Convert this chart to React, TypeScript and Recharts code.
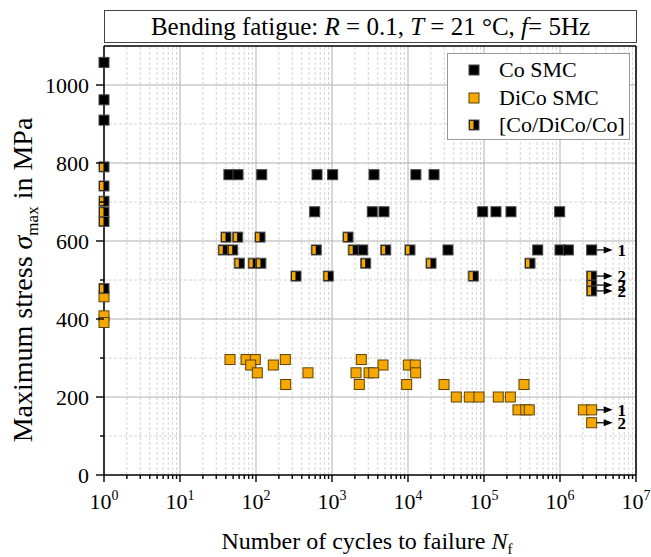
import React from 'react';
import { ScatterChart, Scatter, XAxis, YAxis, ReferenceLine } from 'recharts';

type Pt = { n: number; s: number; r?: string };

// Co SMC (black squares)
const coSmc: Pt[] = [
  { n: 1, s: 1058 }, { n: 1, s: 962 }, { n: 1, s: 910 },
  { n: 44, s: 770 }, { n: 58, s: 770 }, { n: 119, s: 770 }, { n: 635, s: 770 },
  { n: 1020, s: 770 }, { n: 3570, s: 770 }, { n: 12700, s: 770 }, { n: 22000, s: 770 },
  { n: 592, s: 675 }, { n: 3390, s: 675 }, { n: 4830, s: 675 }, { n: 96100, s: 675 },
  { n: 143800, s: 675 }, { n: 226500, s: 675 }, { n: 990000, s: 675 },
  { n: 2535, s: 577 }, { n: 33600, s: 577 }, { n: 509000, s: 577 }, { n: 1000000, s: 577 },
  { n: 1286000, s: 577 }, { n: 2610000, s: 577, r: '1' },
];

// DiCo SMC (orange squares)
const diCoSmc: Pt[] = [
  { n: 1, s: 457 }, { n: 1, s: 408 }, { n: 1, s: 391 },
  { n: 45.5, s: 296 }, { n: 73.9, s: 296 }, { n: 97.9, s: 296 }, { n: 243, s: 296 }, { n: 2430, s: 296 },
  { n: 85.2, s: 282 }, { n: 169, s: 282 }, { n: 4690, s: 282 }, { n: 10090, s: 282 }, { n: 12470, s: 282 },
  { n: 104, s: 262 }, { n: 483, s: 262 }, { n: 2070, s: 262 }, { n: 3070, s: 262 }, { n: 3540, s: 262 }, { n: 12620, s: 262 },
  { n: 246, s: 232 }, { n: 2287, s: 232 }, { n: 9610, s: 232 }, { n: 29780, s: 232 }, { n: 336000, s: 232 },
  { n: 43200, s: 200 }, { n: 64100, s: 200 }, { n: 85900, s: 200 }, { n: 154000, s: 200 }, { n: 222000, s: 200 },
  { n: 280000, s: 167 }, { n: 354000, s: 167 }, { n: 394000, s: 167 }, { n: 2030000, s: 167 },
  { n: 2610000, s: 167, r: '1' },
  { n: 2610000, s: 134, r: '2' },
];

// [Co/DiCo/Co] sandwich (half orange / half black)
const sandwich: Pt[] = [
  { n: 1, s: 790 }, { n: 1, s: 741 }, { n: 1, s: 702 }, { n: 1, s: 674 }, { n: 1, s: 650 }, { n: 1, s: 478 },
  { n: 40.3, s: 610 }, { n: 57.4, s: 610 }, { n: 113, s: 610 }, { n: 1625, s: 610 },
  { n: 37.1, s: 577 }, { n: 49.4, s: 577 }, { n: 621, s: 577 }, { n: 1905, s: 577 }, { n: 5090, s: 577 }, { n: 10620, s: 577 },
  { n: 60.3, s: 543 }, { n: 92, s: 543 }, { n: 116, s: 543 }, { n: 2775, s: 543 }, { n: 20100, s: 543 }, { n: 403000, s: 543 },
  { n: 336, s: 510 }, { n: 894, s: 510 }, { n: 72300, s: 510 },
  { n: 2610000, s: 510, r: '2' },
  { n: 2610000, s: 487, r: '2' },
  { n: 2610000, s: 472, r: '2' },
];

const seriesNames = ['Co SMC', 'DiCo SMC', '[Co/DiCo/Co]'];
const decadeTicks = [1, 10, 100, 1e3, 1e4, 1e5, 1e6, 1e7];
const decadeExp = ['0', '1', '2', '3', '4', '5', '6', '7'];
const stressTicks = [0, 200, 400, 600, 800, 1000];
const stressMinor = [100, 300, 500, 700, 900];

const minorX: number[] = [];
for (let k = 0; k < 7; k++) for (let m = 2; m <= 9; m++) minorX.push(m * 10 ** k);
const allX = [...decadeTicks, ...minorX].sort((a, b) => a - b);
const allY = [...stressTicks, ...stressMinor].sort((a, b) => a - b);

const FONT = '"Liberation Serif", "Times New Roman", serif';
const ORANGE = '#F7A800';
const SZ = 10;

const isMajorX = (v: number) => decadeTicks.includes(v);
const isMajorY = (v: number) => stressTicks.includes(v);

function BottomTick(props: any) {
  const { x, y, payload } = props;
  const v = payload.value;
  const major = isMajorX(v);
  return (
    <g>
      <line x1={x} x2={x} y1={y} y2={y + (major ? 7 : 4)} stroke="#000" strokeWidth={1.4} />
      {major && (
        <text x={x} y={y + 34} textAnchor="middle" fontFamily={FONT} fontSize={22} fill="#000">
          <tspan>10</tspan>
          <tspan dy={-9} fontSize={14}>{decadeExp[decadeTicks.indexOf(v)]}</tspan>
        </text>
      )}
    </g>
  );
}

function TopTick(props: any) {
  const { x, y, payload } = props;
  const major = isMajorX(payload.value);
  return <line x1={x} x2={x} y1={y} y2={y + (major ? 7 : 4)} stroke="#000" strokeWidth={1.4} />;
}

function LeftTick(props: any) {
  const { x, y, payload } = props;
  const v = payload.value;
  const major = isMajorY(v);
  return (
    <g>
      <line x1={x} x2={x - (major ? 8 : 4)} y1={y} y2={y} stroke="#000" strokeWidth={1.4} />
      {major && (
        <text x={x - 15} y={y} dy="0.35em" textAnchor="end" fontFamily={FONT} fontSize={22} fill="#000">
          {v}
        </text>
      )}
    </g>
  );
}

function RightTick(props: any) {
  const { x, y, payload } = props;
  const major = isMajorY(payload.value);
  return <line x1={x} x2={x - (major ? 8 : 4)} y1={y} y2={y} stroke="#000" strokeWidth={1.4} />;
}

function Runout({ cx, cy, label }: { cx: number; cy: number; label: string }) {
  return (
    <g>
      <line x1={cx + SZ / 2} x2={cx + 13} y1={cy} y2={cy} stroke="#000" strokeWidth={1.2} />
      <polygon points={`${cx + 12},${cy - 3.5} ${cx + 21},${cy} ${cx + 12},${cy + 3.5}`} fill="#000" />
      <text x={cx + 30} y={cy + 6} textAnchor="middle" fontFamily={FONT} fontSize={17} fontWeight="bold" fill="#000">
        {label}
      </text>
    </g>
  );
}

function CoMark({ cx, cy }: { cx: number; cy: number }) {
  return <rect x={cx - SZ / 2} y={cy - SZ / 2} width={SZ} height={SZ} fill="#000" stroke="#444" strokeWidth={1} />;
}
function DiCoMark({ cx, cy }: { cx: number; cy: number }) {
  return <rect x={cx - SZ / 2} y={cy - SZ / 2} width={SZ} height={SZ} fill={ORANGE} stroke="#5b4306" strokeWidth={1} />;
}
function SandMark({ cx, cy }: { cx: number; cy: number }) {
  return (
    <g>
      <rect x={cx - SZ / 2} y={cy - SZ / 2} width={SZ} height={SZ} fill="#000" stroke="#555" strokeWidth={1} />
      <rect x={cx - SZ / 2 + 1} y={cy - SZ / 2 + 1} width={3.5} height={SZ - 2} fill={ORANGE} />
    </g>
  );
}

const makeShape = (Mark: any) => (p: any) => (
  <g>
    <Mark cx={p.cx} cy={p.cy} />
    {p.payload?.r && <Runout cx={p.cx} cy={p.cy} label={p.payload.r} />}
  </g>
);

const marks = [CoMark, DiCoMark, SandMark];
const axisLine = { stroke: '#000', strokeWidth: 1.6 };

export default function App() {
  return (
    <div style={{ position: 'absolute', left: 0, top: 0, width: 651, height: 557, background: '#fff' }}>
      <ScatterChart width={651} height={557} margin={{ top: 36, right: 5, bottom: 42, left: 54 }}>
        <XAxis xAxisId="b" type="number" dataKey="n" scale="log" domain={[1, 1e7]} ticks={allX} interval={0}
          tick={BottomTick} tickLine={false} tickSize={0} tickMargin={0} height={40} axisLine={axisLine} />
        <XAxis xAxisId="t" orientation="top" type="number" dataKey="n" scale="log" domain={[1, 1e7]} ticks={allX} interval={0}
          tick={TopTick} tickLine={false} tickSize={0} tickMargin={0} height={10} axisLine={axisLine} />
        <YAxis yAxisId="l" type="number" dataKey="s" domain={[0, 1100]} ticks={allY} interval={0}
          tick={LeftTick} tickLine={false} tickSize={0} tickMargin={0} width={50} axisLine={axisLine} />
        <YAxis yAxisId="r" orientation="right" type="number" dataKey="s" domain={[0, 1100]} ticks={allY} interval={0}
          tick={RightTick} tickLine={false} tickSize={0} tickMargin={0} width={10} axisLine={axisLine} />

        {minorX.map((v) => (
          <ReferenceLine key={`mx${v}`} x={v} xAxisId="b" yAxisId="l" stroke="#d4d4d4" strokeDasharray="3 2" />
        ))}
        {stressMinor.map((v) => (
          <ReferenceLine key={`my${v}`} y={v} xAxisId="b" yAxisId="l" stroke="#d4d4d4" strokeDasharray="3 2" />
        ))}
        {decadeTicks.slice(1, 7).map((v) => (
          <ReferenceLine key={`Mx${v}`} x={v} xAxisId="b" yAxisId="l" stroke="#b0b0b0" />
        ))}
        {stressTicks.slice(1).map((v) => (
          <ReferenceLine key={`My${v}`} y={v} xAxisId="b" yAxisId="l" stroke="#b0b0b0" />
        ))}

        <Scatter name={seriesNames[0]} xAxisId="b" yAxisId="l" data={coSmc} shape={makeShape(CoMark)} isAnimationActive={false} />
        <Scatter name={seriesNames[1]} xAxisId="b" yAxisId="l" data={diCoSmc} shape={makeShape(DiCoMark)} isAnimationActive={false} />
        <Scatter name={seriesNames[2]} xAxisId="b" yAxisId="l" data={sandwich} shape={makeShape(SandMark)} isAnimationActive={false} />
      </ScatterChart>

      {/* title box */}
      <div style={{
        position: 'absolute', left: 104, top: 10, width: 531, height: 31, border: '1px solid #444',
        fontFamily: FONT, fontSize: 25, lineHeight: '31px', textAlign: 'center', color: '#000', background: '#fff',
      }}>
        Bending fatigue: <i>R</i> = 0.1, <i>T</i> = 21 °C, <i>f</i>= 5Hz
      </div>

      {/* legend */}
      <div style={{
        position: 'absolute', left: 447, top: 53, width: 181, height: 85, border: '1px solid #999',
        background: '#fff', fontFamily: FONT, fontSize: 22, color: '#000',
      }}>
        {seriesNames.map((name, i) => {
          const Mark = marks[i];
          return (
            <div key={name} style={{ position: 'absolute', left: 0, top: 3 + i * 27.5, height: 26, width: 181 }}>
              <svg width={40} height={26} style={{ position: 'absolute', left: 6, top: 0 }}>
                <Mark cx={20} cy={13} />
              </svg>
              <span style={{ position: 'absolute', left: 51, top: 0, lineHeight: '26px', whiteSpace: 'nowrap' }}>{name}</span>
            </div>
          );
        })}
      </div>

      {/* axis titles */}
      <svg width={651} height={557} style={{ position: 'absolute', left: 0, top: 0, pointerEvents: 'none' }}>
        <text x={367} y={549} textAnchor="middle" fontFamily={FONT} fontSize={24} fill="#000">
          Number of cycles to failure <tspan fontStyle="italic">N</tspan>
          <tspan fontSize={15} dy={5}>f</tspan>
        </text>
        <text transform="translate(32,280) rotate(-90)" textAnchor="middle" fontFamily={FONT} fontSize={28} fill="#000">
          Maximum stress <tspan fontStyle="italic">σ</tspan>
          <tspan fontSize={17} dy={6}>max</tspan>
          <tspan dy={-6}> in MPa</tspan>
        </text>
      </svg>
    </div>
  );
}
